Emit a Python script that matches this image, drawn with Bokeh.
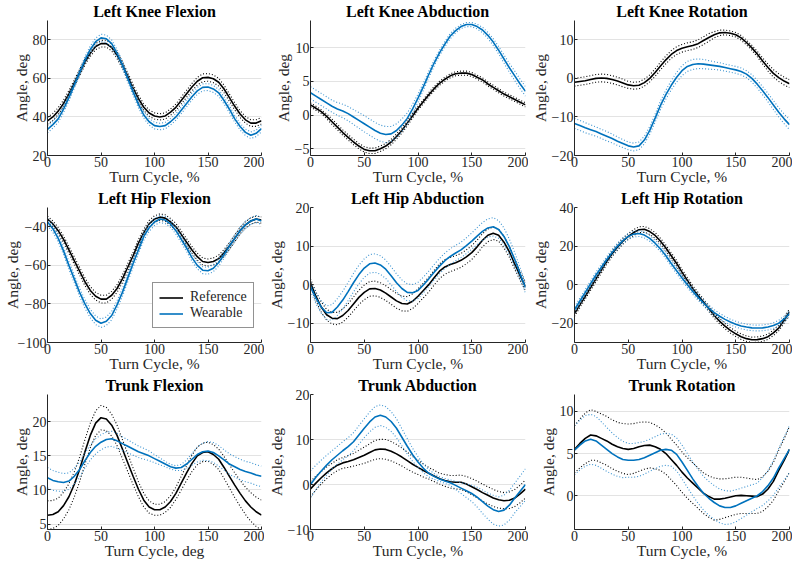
import numpy as np
from bokeh.plotting import figure
from bokeh.layouts import gridplot
from bokeh.models import FixedTicker, Range1d, Legend, LegendItem
from bokeh.embed import file_html
from bokeh.resources import INLINE

FONT = "'Liberation Serif', 'Times New Roman', serif"
BLACK = "#000000"
BLUE = "#0072BD"
BLUE_DOT = "#3d94d1"

cycle = list(range(0, 201, 5))

titles = ["Left Knee Flexion", "Left Knee Abduction", "Left Knee Rotation",
          "Left Hip Flexion", "Left Hip Abduction", "Left Hip Rotation",
          "Trunk Flexion", "Trunk Abduction", "Trunk Rotation"]
x_labels = ["Turn Cycle, %"] * 6 + ["Turn Cycle, deg", "Turn Cycle, %", "Turn Cycle, %"]
y_label = "Angle, deg"
y_ranges = [(20, 90), (-6, 14), (-20, 15), (-100, -30), (-15, 20), (-30, 40),
            (4.2, 24), (-10, 20), (-4, 12)]
y_ticks = [[20, 40, 60, 80], [-5, 0, 5, 10], [-20, -10, 0, 10],
           [-100, -80, -60, -40], [-10, 0, 10, 20], [-20, 0, 20, 40],
           [5, 10, 15, 20], [-10, 0, 10, 20], [0, 5, 10]]
x_ticks = [0, 50, 100, 150, 200]

# Left Knee Flexion
knee_flex_ref = [38, 40, 43, 47, 52, 57.5, 63, 68.5, 73, 76.5,
                 78, 78, 76, 72, 67, 61, 55, 49.5, 45, 42,
                 40.5, 40, 40.5, 42.5, 45, 48.5, 52, 55.5, 58.5, 60.3,
                 60.5, 59.8, 58, 54.5, 50, 45.5, 41.5, 38.5, 36.8, 36.8,
                 38]
knee_flex_ref_sd = [1.8, 1.8, 1.8, 1.75, 1.7, 1.65, 1.6, 1.6, 1.6, 1.65,
                    1.7, 1.75, 1.8, 1.8, 1.8, 1.8, 1.8, 1.75, 1.7, 1.65,
                    1.6, 1.6, 1.6, 1.65, 1.7, 1.75, 1.8, 1.9, 2.0, 2.0,
                    2.0, 2.0, 2.0, 1.95, 1.9, 1.85, 1.8, 1.75, 1.7, 1.7,
                    1.7]
knee_flex_wear = [33.5, 36, 39, 44, 50, 56.5, 63, 69.5, 75, 79,
                  81, 80.5, 78, 73, 67, 60, 53, 46.5, 41, 37.5,
                  35.5, 35, 35.5, 37.5, 40, 43.5, 47, 50.5, 53.5, 55.3,
                  55.5, 54.5, 52.5, 48.5, 44, 39, 35, 32, 30.5, 31.5,
                  34]
knee_flex_wear_sd = [1.8, 1.8, 1.8, 1.75, 1.7, 1.7, 1.7, 1.75, 1.8, 1.85,
                     1.9, 1.9, 1.9, 1.9, 1.9, 1.85, 1.8, 1.75, 1.7, 1.7,
                     1.7, 1.7, 1.7, 1.7, 1.7, 1.75, 1.8, 1.8, 1.8, 1.8,
                     1.8, 1.8, 1.8, 1.8, 1.8, 1.75, 1.7, 1.7, 1.7, 1.7,
                     1.7]

# Left Knee Abduction
knee_abd_ref = [1.5, 1.0, 0.5, -0.2, -1, -1.8, -2.6, -3.3, -4, -4.6,
                -5.1, -5.3, -5.3, -5.0, -4.6, -4.0, -3.2, -2.3, -1.2, -0.1,
                1, 2, 3, 3.9, 4.7, 5.3, 5.8, 6.1, 6.2, 6.2,
                6, 5.6, 5.2, 4.6, 4.1, 3.6, 3.1, 2.7, 2.3, 1.9,
                1.5]
knee_abd_ref_sd = [0.3, 0.3, 0.3, 0.35, 0.4, 0.4, 0.4, 0.4, 0.4, 0.4,
                   0.4, 0.4, 0.4, 0.4, 0.4, 0.4, 0.4, 0.4, 0.4, 0.35,
                   0.3, 0.3, 0.3, 0.3, 0.3, 0.3, 0.3, 0.3, 0.3, 0.3,
                   0.3, 0.3, 0.3, 0.3, 0.3, 0.3, 0.3, 0.3, 0.3, 0.3,
                   0.3]
knee_abd_wear = [3.3, 2.8, 2.3, 1.8, 1.3, 0.9, 0.6, 0.2, -0.3, -0.8,
                 -1.3, -1.8, -2.3, -2.7, -2.9, -2.8, -2.3, -1.5, -0.5, 0.9,
                 2.5, 4.2, 6, 7.7, 9.2, 10.5, 11.7, 12.5, 13.1, 13.4,
                 13.4, 13.1, 12.6, 11.8, 10.8, 9.6, 8.3, 7, 5.8, 4.6,
                 3.5]
knee_abd_wear_sd = [0.9, 0.9, 0.9, 0.9, 0.9, 0.95, 1.0, 1.05, 1.1, 1.15,
                    1.2, 1.2, 1.2, 1.2, 1.2, 1.1, 1.0, 0.9, 0.8, 0.7,
                    0.6, 0.55, 0.5, 0.45, 0.4, 0.4, 0.4, 0.35, 0.3, 0.3,
                    0.3, 0.35, 0.4, 0.45, 0.5, 0.55, 0.6, 0.65, 0.7, 0.7,
                    0.7]

# Left Knee Rotation
knee_rot_ref = [-1, -0.8, -0.6, -0.3, 0, 0.1, 0, -0.3, -0.7, -1.2,
                -1.7, -1.9, -1.8, -1.1, 0, 1.5, 3.2, 4.8, 6.2, 7.2,
                7.8, 8.2, 8.5, 9, 9.8, 10.6, 11.3, 11.8, 11.9, 11.7,
                11.3, 10.5, 9.3, 7.9, 6.3, 4.5, 2.8, 1.3, 0.2, -0.7,
                -1.4]
knee_rot_ref_sd = [1.0, 1.0, 1.0, 1.0, 1.0, 1.0, 1.0, 1.0, 1.0, 1.0,
                   0.9, 0.9, 0.9, 0.9, 0.9, 0.95, 1.0, 1.0, 1.0, 1.0,
                   1.0, 1.0, 1.0, 1.0, 1.0, 1.0, 0.8, 0.7, 0.6, 0.6,
                   0.6, 0.6, 0.6, 0.65, 0.7, 0.8, 0.9, 0.95, 1.0, 1.0,
                   1.0]
knee_rot_wear = [-11.7, -12.2, -12.8, -13.3, -13.8, -14.4, -15, -15.6, -16.3, -16.9,
                 -17.5, -17.8, -17.5, -16, -13.5, -10.3, -7, -4.2, -1.8, 0.3,
                 2, 3.1, 3.6, 3.8, 3.7, 3.5, 3.3, 3.1, 2.8, 2.5,
                 2.2, 1.8, 1.1, 0, -1.5, -3.2, -5, -6.9, -8.8, -10.5,
                 -12]
knee_rot_wear_sd = [1.3, 1.3, 1.3, 1.25, 1.2, 1.2, 1.2, 1.15, 1.1, 1.05,
                    1.0, 1.0, 1.0, 1.0, 1.0, 1.05, 1.1, 1.15, 1.2, 1.25,
                    1.3, 1.3, 1.3, 1.25, 1.2, 1.1, 1.0, 0.95, 0.9, 0.9,
                    0.9, 0.9, 0.9, 0.95, 1.0, 1.05, 1.1, 1.15, 1.2, 1.25,
                    1.3]

# Left Hip Flexion
hip_flex_ref = [-36, -38.5, -42, -46.5, -52, -57.5, -63, -68.5, -73, -76,
                -77.5, -77.5, -75.5, -72, -67, -61, -55, -48.5, -43, -38.5,
                -36, -35, -35.5, -37.5, -40, -44, -48, -52, -55.5, -58,
                -58.5, -58, -56.5, -53.5, -50, -46, -42, -39, -37, -36,
                -36.5]
hip_flex_ref_sd = [1.5, 1.55, 1.6, 1.7, 1.8, 1.9, 2.0, 2.0, 2.0, 2.0,
                   2.0, 2.0, 2.0, 2.0, 2.0, 1.95, 1.9, 1.85, 1.8, 1.75,
                   1.7, 1.7, 1.7, 1.75, 1.8, 1.8, 1.8, 1.8, 1.8, 1.8,
                   1.8, 1.8, 1.8, 1.75, 1.7, 1.7, 1.7, 1.65, 1.6, 1.6,
                   1.6]
hip_flex_wear = [-37.5, -41, -46, -52.5, -60, -67, -74, -80, -85, -88.5,
                 -90, -89, -86, -80.5, -74, -66.5, -59, -52, -45, -40.5,
                 -37.5, -36, -36.5, -38.5, -42, -46.5, -51, -56, -60, -62.5,
                 -62.8, -61.5, -58.5, -54.5, -50, -46, -42, -39, -37, -36,
                 -37]
hip_flex_wear_sd = [1.8, 1.85, 1.9, 1.95, 2.0, 2.05, 2.1, 2.15, 2.2, 2.2,
                    2.2, 2.2, 2.2, 2.15, 2.1, 2.05, 2.0, 1.95, 1.9, 1.85,
                    1.8, 1.8, 1.8, 1.8, 1.8, 1.8, 1.8, 1.8, 1.8, 1.8,
                    1.8, 1.8, 1.8, 1.8, 1.8, 1.8, 1.8, 1.8, 1.8, 1.8,
                    1.8]

# Left Hip Abduction
hip_abd_ref = [0.5, -3, -5.8, -7.8, -8.7, -8.8, -8, -6.7, -5, -3.3,
               -2, -1.1, -1, -1.4, -2.2, -3.2, -4.2, -4.9, -5, -4.3,
               -3, -1.5, 0, 1.8, 3.5, 4.6, 5.2, 5.7, 6.3, 7.2,
               8.3, 9.8, 11.5, 12.8, 13.3, 12.8, 11, 8.5, 5.3, 2.3,
               -0.5]
hip_abd_ref_sd = [1.0, 1.15, 1.3, 1.4, 1.5, 1.6, 1.7, 1.75, 1.8, 1.85,
                  1.9, 1.9, 1.9, 1.9, 1.9, 1.9, 1.9, 1.9, 1.9, 1.9,
                  1.9, 1.9, 1.9, 1.9, 1.9, 1.9, 1.85, 1.8, 1.8, 1.8,
                  1.8, 1.75, 1.7, 1.65, 1.6, 1.55, 1.5, 1.4, 1.3, 1.15,
                  1.0]
hip_abd_wear = [-0.5, -3.5, -5.8, -7.3, -7.2, -5.8, -4, -1.8, 0.5, 2.6,
                4.3, 5.4, 5.6, 5.1, 4, 2.3, 0.5, -1, -2, -2.1,
                -1.5, -0.1, 1.5, 3.2, 4.8, 6.2, 7.3, 8.2, 9, 10.1,
                11.3, 12.6, 13.8, 14.7, 15, 14.3, 12.5, 9.8, 6.5, 2.8,
                -0.8]
hip_abd_wear_sd = [1.2, 1.4, 1.6, 1.8, 2.0, 2.15, 2.3, 2.35, 2.4, 2.4,
                   2.4, 2.4, 2.4, 2.4, 2.4, 2.35, 2.3, 2.25, 2.2, 2.15,
                   2.1, 2.05, 2.0, 2.0, 2.0, 2.0, 2.0, 2.0, 2.0, 2.05,
                   2.1, 2.2, 2.3, 2.35, 2.4, 2.3, 2.2, 2.0, 1.8, 1.55,
                   1.3]

# Left Hip Rotation
hip_rot_ref = [-15, -10.5, -6, -1.5, 3, 7.5, 12, 16, 19.5, 22.5,
               25, 27, 28.5, 28.7, 27.5, 25.5, 22.5, 19, 15, 11,
               6.5, 2.2, -2, -5.6, -9, -12.5, -16, -19, -21.5, -23.7,
               -25.5, -27, -28, -28.6, -28.5, -28, -27, -25, -22.5, -18.5,
               -14]
hip_rot_ref_sd = [1.4, 1.4, 1.4, 1.45, 1.5, 1.5, 1.5, 1.5, 1.5, 1.5,
                  1.5, 1.5, 1.5, 1.5, 1.5, 1.5, 1.5, 1.5, 1.5, 1.5,
                  1.5, 1.5, 1.5, 1.5, 1.5, 1.45, 1.4, 1.4, 1.4, 1.4,
                  1.4, 1.4, 1.4, 1.4, 1.4, 1.4, 1.4, 1.4, 1.4, 1.4,
                  1.4]
hip_rot_wear = [-13, -8.5, -4, 0.5, 5, 9, 13, 16.7, 20, 22.8,
                25, 26.2, 26.5, 25.7, 24, 21.5, 18.5, 15, 11, 7.2,
                3.5, 0, -3.5, -6.6, -9.5, -12.2, -14.5, -16.4, -18, -19.4,
                -20.5, -21.4, -22, -22.4, -22.5, -22.4, -22, -21.2, -20, -17.8,
                -15]
hip_rot_wear_sd = [1.5, 1.5, 1.5, 1.5, 1.5, 1.5, 1.5, 1.5, 1.5, 1.5,
                   1.5, 1.5, 1.5, 1.5, 1.5, 1.5, 1.5, 1.5, 1.5, 1.5,
                   1.5, 1.5, 1.5, 1.5, 1.5, 1.5, 1.5, 1.5, 1.5, 1.5,
                   1.5, 1.5, 1.5, 1.5, 1.5, 1.5, 1.5, 1.5, 1.5, 1.5,
                   1.5]

# Trunk Flexion
trunk_flex_ref = [6.3, 6.4, 6.8, 7.7, 9, 10.8, 13, 15.6, 18, 19.8,
                  20.6, 20.4, 19.5, 18, 16, 14, 12, 10.1, 8.5, 7.5,
                  7.1, 7.1, 7.5, 8.3, 9.5, 11, 12.5, 13.9, 15, 15.5,
                  15.6, 15.2, 14.5, 13.3, 12, 10.7, 9.5, 8.4, 7.5, 6.8,
                  6.3]
trunk_flex_ref_sd = [2.1, 2.05, 2.0, 1.95, 1.9, 1.85, 1.8, 1.8, 1.8, 1.8,
                     1.8, 1.7, 1.6, 1.5, 1.4, 1.3, 1.2, 1.1, 1.0, 0.9,
                     0.8, 0.8, 0.8, 0.85, 0.9, 1.0, 1.1, 1.2, 1.3, 1.35,
                     1.4, 1.45, 1.5, 1.6, 1.7, 1.8, 1.9, 2.0, 2.1, 2.15,
                     2.2]
trunk_flex_wear = [11.8, 11.4, 11.2, 11.1, 11.3, 12, 13, 14.3, 15.5, 16.4,
                   17, 17.4, 17.5, 17.2, 16.8, 16.4, 16, 15.6, 15.3, 15,
                   14.6, 14.2, 13.8, 13.4, 13.2, 13.3, 13.8, 14.5, 15.2, 15.6,
                   15.7, 15.5, 15, 14.4, 13.8, 13.4, 13, 12.7, 12.5, 12.2,
                   12]
trunk_flex_wear_sd = [1.5, 1.45, 1.4, 1.3, 1.2, 1.15, 1.1, 1.1, 1.1, 1.1,
                      1.1, 1.1, 1.1, 1.1, 1.0, 0.95, 0.9, 0.85, 0.8, 0.7,
                      0.6, 0.5, 0.4, 0.35, 0.35, 0.45, 0.6, 0.85, 1.1, 1.25,
                      1.4, 1.45, 1.5, 1.5, 1.5, 1.5, 1.5, 1.5, 1.5, 1.5,
                      1.5]

# Trunk Abduction
trunk_abd_ref = [-1, 0.3, 1.5, 2.6, 3.5, 4.3, 4.8, 5.1, 5.5, 6,
                 6.5, 7.1, 7.7, 7.9, 7.8, 7.4, 6.8, 6.1, 5.3, 4.5,
                 3.8, 3.1, 2.5, 1.9, 1.3, 0.9, 0.6, 0.5, 0.5, 0.1,
                 -0.5, -1.1, -1.8, -2.4, -3, -3.4, -3.6, -3.5, -3, -2.1,
                 -1]
trunk_abd_ref_sd = [1.7, 1.55, 1.4, 1.3, 1.2, 1.2, 1.2, 1.3, 1.4, 1.6,
                    1.8, 1.95, 2.1, 2.15, 2.2, 2.15, 2.1, 2.0, 1.9, 1.75,
                    1.6, 1.45, 1.3, 1.25, 1.2, 1.3, 1.4, 1.5, 1.6, 1.7,
                    1.8, 1.85, 1.9, 1.9, 1.9, 1.85, 1.8, 1.85, 1.9, 1.95,
                    2.0]
trunk_abd_wear = [0, 1.6, 3, 4.3, 5.5, 6.5, 7.5, 8.4, 9.5, 11,
                  12.5, 13.9, 15, 15.4, 15, 14, 12.5, 10.5, 8.5, 6.6,
                  5, 3.6, 2.5, 1.8, 1.2, 0.8, 0.4, -0.2, -0.8, -1.4,
                  -2, -2.8, -3.8, -4.8, -5.6, -6, -5.7, -4.6, -3, -1.5,
                  0]
trunk_abd_wear_sd = [3.0, 2.7, 2.4, 2.2, 2.0, 2.0, 2.0, 2.0, 2.0, 2.05,
                     2.1, 2.2, 2.3, 2.3, 2.3, 2.2, 2.1, 1.9, 1.7, 1.45,
                     1.2, 1.0, 0.8, 0.65, 0.5, 0.55, 0.6, 0.9, 1.2, 1.5,
                     1.8, 2.2, 2.6, 2.9, 3.2, 3.25, 3.3, 3.3, 3.3, 3.4,
                     3.5]

# Trunk Rotation
trunk_rot_ref = [5.5, 6.2, 6.8, 7.2, 7.1, 6.8, 6.5, 6.1, 5.8, 5.6,
                 5.5, 5.6, 5.8, 5.95, 6, 5.8, 5.5, 5, 4.3, 3.6,
                 2.8, 2.1, 1.5, 0.9, 0.3, -0.1, -0.4, -0.4, -0.3, -0.15,
                 0, 0.05, 0, -0.05, -0.1, 0.2, 0.8, 1.7, 3, 4.2,
                 5.5]
trunk_rot_ref_sd = [2.8, 2.9, 3.0, 3.0, 2.9, 2.9, 2.9, 2.9, 2.9, 2.95,
                    3.0, 2.95, 2.9, 2.8, 2.7, 2.6, 2.5, 2.45, 2.4, 2.4,
                    2.4, 2.4, 2.4, 2.4, 2.4, 2.45, 2.5, 2.4, 2.3, 2.25,
                    2.2, 2.15, 2.1, 2.05, 2.0, 2.05, 2.1, 2.25, 2.4, 2.55,
                    2.7]
trunk_rot_wear = [5.4, 6, 6.5, 6.7, 6.5, 6, 5.5, 5, 4.6, 4.3,
                  4.2, 4.2, 4.3, 4.5, 4.8, 5.1, 5.4, 5.5, 5.4, 4.9,
                  4, 3, 2, 1.1, 0.3, -0.3, -0.8, -1.2, -1.4, -1.4,
                  -1.2, -0.9, -0.6, -0.3, 0, 0.5, 1.2, 2.1, 3.3, 4.4,
                  5.5]
trunk_rot_wear_sd = [2.9, 2.95, 3.0, 2.95, 2.9, 2.75, 2.6, 2.45, 2.3, 2.15,
                     2.0, 2.0, 2.0, 1.95, 1.9, 1.9, 1.9, 1.9, 1.9, 1.95,
                     2.0, 2.0, 2.0, 2.0, 2.0, 2.0, 2.0, 2.0, 2.0, 1.95,
                     1.9, 1.8, 1.7, 1.6, 1.5, 1.65, 1.8, 2.05, 2.3, 2.55,
                     2.8]

panels = [
    (knee_flex_ref, knee_flex_ref_sd, knee_flex_wear, knee_flex_wear_sd),
    (knee_abd_ref, knee_abd_ref_sd, knee_abd_wear, knee_abd_wear_sd),
    (knee_rot_ref, knee_rot_ref_sd, knee_rot_wear, knee_rot_wear_sd),
    (hip_flex_ref, hip_flex_ref_sd, hip_flex_wear, hip_flex_wear_sd),
    (hip_abd_ref, hip_abd_ref_sd, hip_abd_wear, hip_abd_wear_sd),
    (hip_rot_ref, hip_rot_ref_sd, hip_rot_wear, hip_rot_wear_sd),
    (trunk_flex_ref, trunk_flex_ref_sd, trunk_flex_wear, trunk_flex_wear_sd),
    (trunk_abd_ref, trunk_abd_ref_sd, trunk_abd_wear, trunk_abd_wear_sd),
    (trunk_rot_ref, trunk_rot_ref_sd, trunk_rot_wear, trunk_rot_wear_sd),
]
for k, grp in enumerate(panels):
    for arr in grp:
        assert len(arr) == len(cycle), (k, len(arr))

AX = "#262626"
figs = []
for i, (rm, rs, wm, ws) in enumerate(panels):
    p = figure(width=264, height=187, output_backend="svg", toolbar_location=None,
               x_range=Range1d(0, 200), y_range=Range1d(*y_ranges[i]),
               min_border_left=40, min_border_right=3, min_border_top=20,
               min_border_bottom=30, title=titles[i])
    p.outline_line_color = None
    p.background_fill_color = "white"
    p.title.text_font = FONT
    p.title.text_font_style = "bold"
    p.title.text_font_size = "16px"
    p.title.align = "center"
    p.title.standoff = 1
    p.title.text_color = "#000000"

    p.xaxis.ticker = FixedTicker(ticks=x_ticks)
    p.yaxis.ticker = FixedTicker(ticks=y_ticks[i])
    p.xaxis.axis_label = x_labels[i]
    p.yaxis.axis_label = y_label
    for ax in (p.xaxis[0], p.yaxis[0]):
        ax.axis_line_color = AX
        ax.major_tick_line_color = AX
        ax.major_tick_in = 3
        ax.major_tick_out = 0
        ax.minor_tick_line_color = None
        ax.major_label_text_font = FONT
        ax.major_label_text_font_size = "14px"
        ax.major_label_text_color = AX
        ax.major_label_standoff = 1
        ax.axis_label_text_font = FONT
        ax.axis_label_text_font_size = "15.5px"
        ax.axis_label_text_font_style = "normal"
        ax.axis_label_text_color = AX
        ax.axis_label_standoff = 0
    p.xaxis.axis_label_standoff = -2
    if i == 3:
        p.yaxis.axis_label_standoff = -6
    p.xgrid.visible = False
    p.ygrid.grid_line_color = "#e3e3e3"

    rm_a, rs_a = np.array(rm), np.array(rs)
    wm_a, ws_a = np.array(wm), np.array(ws)
    p.line(cycle, rm_a + rs_a, line_color=BLACK, line_width=1.1, line_dash="1 2")
    p.line(cycle, rm_a - rs_a, line_color=BLACK, line_width=1.1, line_dash="1 2")
    r_ref = p.line(cycle, rm, line_color=BLACK, line_width=1.6)
    p.line(cycle, wm_a + ws_a, line_color=BLUE_DOT, line_width=1.1, line_dash="1 2")
    p.line(cycle, wm_a - ws_a, line_color=BLUE_DOT, line_width=1.1, line_dash="1 2")
    r_wear = p.line(cycle, wm, line_color=BLUE, line_width=1.6)

    if i == 3:
        leg = Legend(items=[LegendItem(label="Reference", renderers=[r_ref]),
                            LegendItem(label="Wearable", renderers=[r_wear])],
                     location=(105, 14))
        leg.label_text_font = FONT
        leg.label_text_font_size = "14px"
        leg.label_text_color = AX
        leg.border_line_color = AX
        leg.border_line_width = 1
        leg.background_fill_color = "white"
        leg.background_fill_alpha = 1
        leg.glyph_width = 24
        leg.glyph_height = 13
        leg.label_height = 13
        leg.label_standoff = 7
        leg.spacing = 0
        leg.padding = 6
        leg.margin = 0
        p.add_layout(leg)
    figs.append(p)

grid = gridplot(figs, ncols=3, toolbar_location=None)
open("out.html", "w").write(file_html(grid, INLINE))
